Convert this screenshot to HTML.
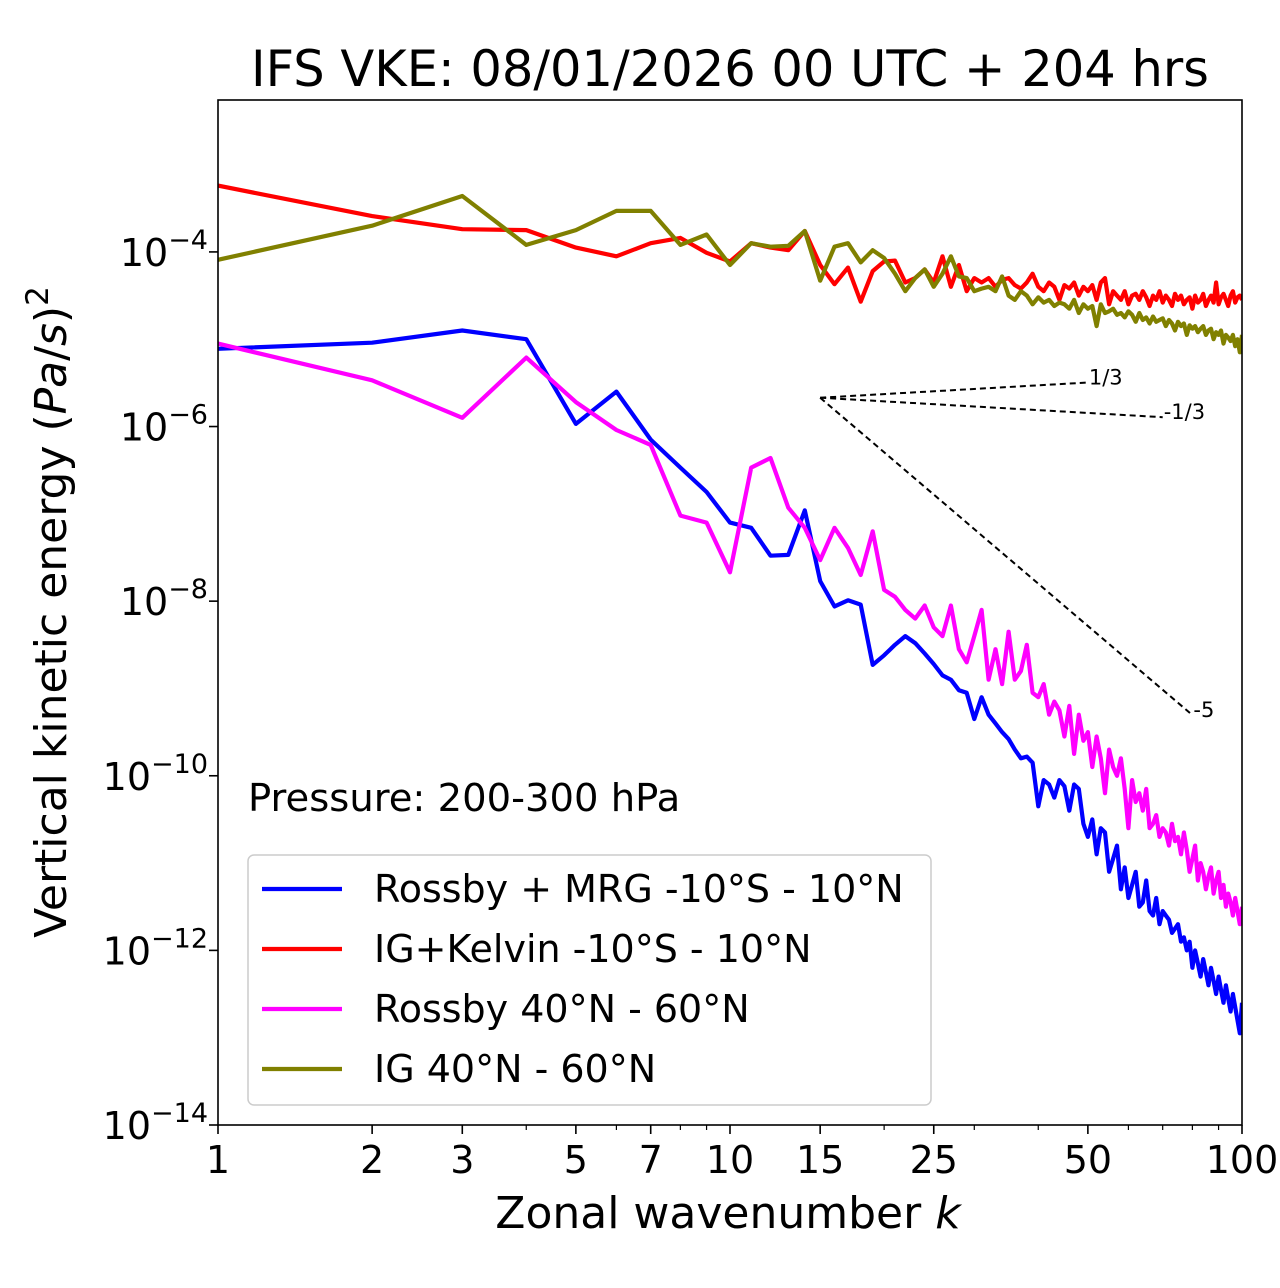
<!DOCTYPE html>
<html><head><meta charset="utf-8">
<style>
html,body{margin:0;padding:0;background:#fff;}
svg{display:block;font-family:"DejaVu Sans","Liberation Sans",sans-serif;}
</style></head>
<body>
<svg id="chart" width="1280" height="1288" viewBox="0 0 1280 1288" xmlns="http://www.w3.org/2000/svg">
<rect x="0" y="0" width="1280" height="1288" fill="#fff"/>
<text x="730" y="86" font-size="49.5" text-anchor="middle">IFS VKE: 08/01/2026 00 UTC + 204 hrs</text>
<g id="plot"></g>
<rect x="218" y="100" width="1024" height="1025" fill="none" stroke="#000" stroke-width="1.6"/>
<text x="248" y="811" font-size="38.5">Pressure: 200-300 hPa</text>
<text x="728" y="1228" font-size="44" text-anchor="middle">Zonal wavenumber <tspan font-style="italic">k</tspan></text>
<text transform="translate(66,612) rotate(-90)" font-size="44" text-anchor="middle">Vertical kinetic energy (<tspan font-style="italic">Pa</tspan>/<tspan font-style="italic">s</tspan>)<tspan dy="-18" font-size="31">2</tspan></text>
<g id="legend">
<rect x="248" y="855" width="683" height="250" rx="6" fill="#fff" fill-opacity="0.8" stroke="#ccc" stroke-width="1.5"/>
</g>
</svg>
<script>
const rossbyMRG = [-5.11,-5.04,-4.90,-5.00,-5.97,-5.60,-6.15,-6.47,-6.75,-7.10,-7.16,-7.48,-7.47,-6.96,-7.77,-8.06,-7.99,-8.04,-8.73,-8.62,
-8.50,-8.40,-8.48,-8.60,-8.72,-8.85,-8.90,-9.02,-9.05,-9.35,-9.10,-9.30,-9.40,-9.50,-9.58,-9.70,-9.80,-9.78,-9.85,-10.35,
-10.05,-10.10,-10.25,-10.05,-10.12,-10.40,-10.10,-10.15,-10.55,-10.70,-10.50,-10.90,-10.60,-10.65,-11.10,-10.95,-10.80,-11.30,-11.05,-11.40,
-11.25,-11.10,-11.50,-11.45,-11.20,-11.55,-11.60,-11.40,-11.70,-11.55,-11.60,-11.65,-11.80,-11.75,-11.70,-11.90,-11.85,-12.00,-11.90,-12.20,
-12.00,-12.15,-12.30,-12.10,-12.25,-12.40,-12.20,-12.35,-12.50,-12.30,-12.45,-12.60,-12.40,-12.55,-12.70,-12.50,-12.65,-12.80,-12.95,-12.60];
const igKelvin = [-3.24,-3.59,-3.74,-3.75,-3.95,-4.05,-3.90,-3.84,-4.01,-4.11,-3.90,-3.95,-3.98,-3.76,-4.15,-4.37,-4.18,-4.57,-4.22,-4.11,
-4.10,-4.35,-4.30,-4.20,-4.35,-4.05,-4.40,-4.15,-4.45,-4.30,
-4.35,-4.30,-4.40,-4.32,-4.30,-4.38,-4.42,-4.35,-4.25,-4.40,
-4.45,-4.35,-4.40,-4.55,-4.38,-4.42,-4.35,-4.50,-4.40,-4.45,
-4.38,-4.55,-4.35,-4.30,-4.60,-4.45,-4.50,-4.55,-4.45,-4.60,
-4.50,-4.48,-4.55,-4.45,-4.52,-4.62,-4.50,-4.55,-4.45,-4.58,
-4.50,-4.55,-4.62,-4.48,-4.55,-4.50,-4.60,-4.55,-4.52,-4.65,
-4.50,-4.58,-4.55,-4.48,-4.62,-4.55,-4.50,-4.58,-4.35,-4.60,
-4.52,-4.48,-4.55,-4.62,-4.50,-4.45,-4.58,-4.52,-4.50,-4.55];
const rossbyMid = [-5.05,-5.47,-5.90,-5.21,-5.72,-6.04,-6.21,-7.02,-7.10,-7.67,-6.47,-6.36,-6.93,-7.16,-7.53,-7.16,-7.39,-7.70,-7.20,-7.87,
-7.95,-8.10,-8.20,-8.05,-8.30,-8.40,-8.05,-8.55,-8.70,-8.40,-8.10,-8.90,-8.55,-8.95,-8.35,-8.90,-8.80,-8.50,-9.05,-9.10,
-8.95,-9.30,-9.15,-9.25,-9.55,-9.20,-9.75,-9.30,-9.60,-9.50,-9.90,-9.55,-9.80,-10.20,-9.70,-9.90,-10.00,-9.80,-10.15,-10.60,
-10.05,-10.30,-10.20,-10.40,-10.15,-10.60,-10.55,-10.45,-10.70,-10.60,-10.65,-10.80,-10.55,-10.75,-10.70,-10.90,-10.65,-10.85,-11.10,-10.95,
-10.80,-11.20,-11.00,-11.10,-11.30,-11.15,-11.05,-11.35,-11.20,-11.10,-11.40,-11.25,-11.50,-11.35,-11.45,-11.60,-11.40,-11.55,-11.70,-11.50];
const igMid = [-4.09,-3.70,-3.36,-3.92,-3.75,-3.53,-3.53,-3.92,-3.80,-4.15,-3.90,-3.94,-3.93,-3.76,-4.33,-3.94,-3.90,-4.12,-3.98,-4.07,
-4.25,-4.45,-4.30,-4.20,-4.40,-4.25,-4.05,-4.28,-4.30,-4.45,
-4.42,-4.40,-4.45,-4.28,-4.50,-4.55,-4.45,-4.50,-4.60,-4.52,
-4.58,-4.55,-4.62,-4.58,-4.60,-4.65,-4.55,-4.70,-4.60,-4.65,
-4.62,-4.85,-4.60,-4.70,-4.68,-4.65,-4.72,-4.70,-4.75,-4.68,
-4.72,-4.80,-4.70,-4.78,-4.75,-4.82,-4.74,-4.80,-4.78,-4.76,
-4.85,-4.78,-4.82,-4.90,-4.80,-4.85,-4.82,-4.95,-4.84,-4.88,
-4.85,-4.92,-4.88,-4.85,-4.95,-4.90,-4.88,-5.00,-4.92,-4.95,
-4.90,-5.05,-4.95,-4.98,-5.02,-4.95,-5.08,-5.00,-5.15,-4.95];
const seriesNames = ["Rossby + MRG -10°S - 10°N","IG+Kelvin -10°S - 10°N","Rossby 40°N - 60°N","IG 40°N - 60°N"];
const seriesColors = ["#0000ff","#ff0000","#ff00ff","#808000"];
const xMajorTicks = [1,2,3,5,7,10,15,25,50,100];
const xMinorTicks = [4,6,8,9,20,30,40,60,70,80,90];
const yMajorExp = [-14,-12,-10,-8,-6,-4];
const slopes = [1/3,-1/3,-5];
const slopeLabels = ["1/3","-1/3","-5"];
const slopeEnds = [50,70,80];
const slopeStartK = 15, slopeStartLog = -5.67;

const NS="http://www.w3.org/2000/svg";
const L=218,R=1242,T=100,B=1125;
const LOGMIN=-14, LOGMAX=-2.26;
function xs(k){return L+(R-L)*Math.log10(k)/2;}
function ys(lv){return B-(B-T)*(lv-LOGMIN)/(LOGMAX-LOGMIN);}
const plot=document.getElementById('plot');
function mk(tag,attrs,parent){const e=document.createElementNS(NS,tag);for(const a in attrs)e.setAttribute(a,attrs[a]);(parent||plot).appendChild(e);return e;}

xMajorTicks.forEach(k=>{
  const x=xs(k);
  const t=mk('line',{x1:x,x2:x,y1:B,y2:B+9,stroke:'#000','stroke-width':1.6});
  
  
  const lab=mk('text',{x:x,y:B+48,'font-size':38,'text-anchor':'middle'});
  lab.textContent=k;
  
  
});
xMinorTicks.forEach(k=>{
  const x=xs(k);
  const t=mk('line',{x1:x,x2:x,y1:B,y2:B+5,stroke:'#000','stroke-width':1.2});
  
  
});
yMajorExp.forEach(e=>{
  const y=ys(e);
  const t=mk('line',{x1:L-9,x2:L,y1:y,y2:y,stroke:'#000','stroke-width':1.6});
  
  
  const lab=mk('text',{x:L-10,y:y+14,'font-size':38,'text-anchor':'end'});
  lab.innerHTML='10<tspan dy="-17" font-size="27">−'+Math.abs(e)+'</tspan>';
  
  
});

const clip=mk('clipPath',{id:'pc'});
mk('rect',{x:L,y:T,width:R-L,height:B-T},clip);
const allSeries=[rossbyMRG,igKelvin,rossbyMid,igMid];
allSeries.forEach((arr,i)=>{
  const pts=arr.map((v,j)=>xs(j+1).toFixed(1)+','+ys(v).toFixed(1)).join(' ');
  const p=mk('polyline',{points:pts,fill:'none',stroke:seriesColors[i],'stroke-width':4.2,'stroke-linejoin':'round','clip-path':'url(#pc)'});
  
  
});

slopes.forEach((s,i)=>{
  const k2=slopeEnds[i];
  const v2=slopeStartLog+s*Math.log10(k2/slopeStartK);
  const ln=mk('line',{x1:xs(slopeStartK),y1:ys(slopeStartLog),x2:xs(k2),y2:ys(v2),stroke:'#000','stroke-width':2,'stroke-dasharray':'6,4'});
  
  
  const t=mk('text',{x:xs(k2)+1,y:ys(v2)+2,'font-size':21});
  t.textContent=slopeLabels[i];
  
  
});

const leg=document.getElementById('legend');
seriesNames.forEach((n,i)=>{
  const y=889+60*i;
  const g=mk('g',{},leg);
  
  
  mk('line',{x1:262,x2:342,y1:y,y2:y,stroke:seriesColors[i],'stroke-width':4.2},g);
  const t=mk('text',{x:374,y:y+13,'font-size':38},g);
  t.textContent=n;
});
</script>
</body></html>
